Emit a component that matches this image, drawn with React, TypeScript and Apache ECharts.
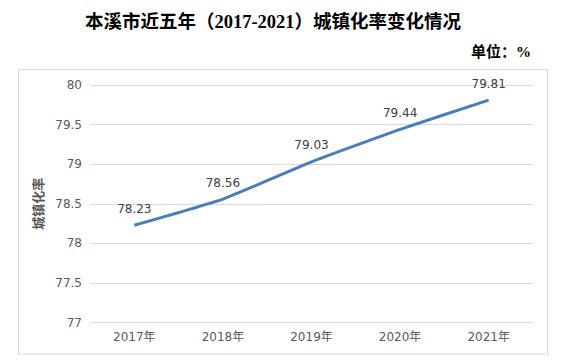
import React, { useEffect, useRef } from "react";
import * as echarts from "echarts";

const title = "本溪市近五年（2017-2021）城镇化率变化情况";
const unitText = "单位：%";
const yAxisName = "城镇化率";
const categories = ["2017年", "2018年", "2019年", "2020年", "2021年"];
const rates = [78.23, 78.56, 79.03, 79.44, 79.81];

export default function App() {
  const ref = useRef<HTMLDivElement>(null);
  useEffect(() => {
    if (!ref.current) return;
    const chart = echarts.init(ref.current, null, { renderer: "svg" });
    chart.setOption({
      animation: false,
      backgroundColor: "#ffffff",
      graphic: [
        {
          type: "rect",
          shape: { x: 18.5, y: 69.5, width: 529, height: 284.5 },
          style: { fill: "none", stroke: "#d9d9d9", lineWidth: 1 },
          silent: true,
        },
        {
          type: "text",
          x: 273,
          y: 22,
          style: {
            text: title,
            fill: "#000000",
            font: "bold 18.5px 'Liberation Serif', 'Noto Sans CJK SC'",
            textAlign: "center",
            textVerticalAlign: "middle",
          },
        },
        {
          type: "text",
          x: 531,
          y: 52,
          style: {
            text: unitText,
            fill: "#000000",
            font: "bold 15px 'Liberation Serif', 'Noto Sans CJK SC'",
            textAlign: "right",
            textVerticalAlign: "middle",
          },
        },
      ],
      grid: { left: 90, right: 31, top: 85, bottom: 39.3, containLabel: false },
      xAxis: {
        type: "category",
        data: categories,
        boundaryGap: true,
        axisLine: { show: true, lineStyle: { color: "#d9d9d9", width: 1 } },
        axisTick: { show: false },
        axisLabel: {
          color: "#595959",
          fontSize: 12,
          fontFamily: "DejaVu Sans, Noto Sans CJK SC",
          margin: 8,
        },
      },
      yAxis: {
        type: "value",
        min: 77,
        max: 80,
        interval: 0.5,
        name: yAxisName,
        nameLocation: "middle",
        nameRotate: 90,
        nameGap: 34,
        nameTextStyle: {
          color: "#595959",
          fontSize: 13,
          fontWeight: "bold",
          fontFamily: "Noto Sans CJK SC",
        },
        axisLine: { show: false },
        axisTick: { show: false },
        splitLine: { lineStyle: { color: "#d9d9d9", width: 1 } },
        axisLabel: {
          color: "#595959",
          fontSize: 12,
          fontFamily: "DejaVu Sans",
          margin: 8,
        },
      },
      series: [
        {
          type: "line",
          data: rates,
          smooth: 0.15,
          symbol: "circle",
          symbolSize: 1,
          showSymbol: true,
          itemStyle: { color: "rgba(0,0,0,0)" },
          lineStyle: { color: "#4a7ebb", width: 3 },
          label: {
            show: true,
            position: "top",
            distance: 10,
            color: "#404040",
            fontSize: 12,
            fontFamily: "DejaVu Sans",
          },
        },
      ],
    });
    return () => chart.dispose();
  }, []);
  return (
    <div
      ref={ref}
      style={{ position: "fixed", left: 0, top: 0, width: 564, height: 362 }}
    />
  );
}
